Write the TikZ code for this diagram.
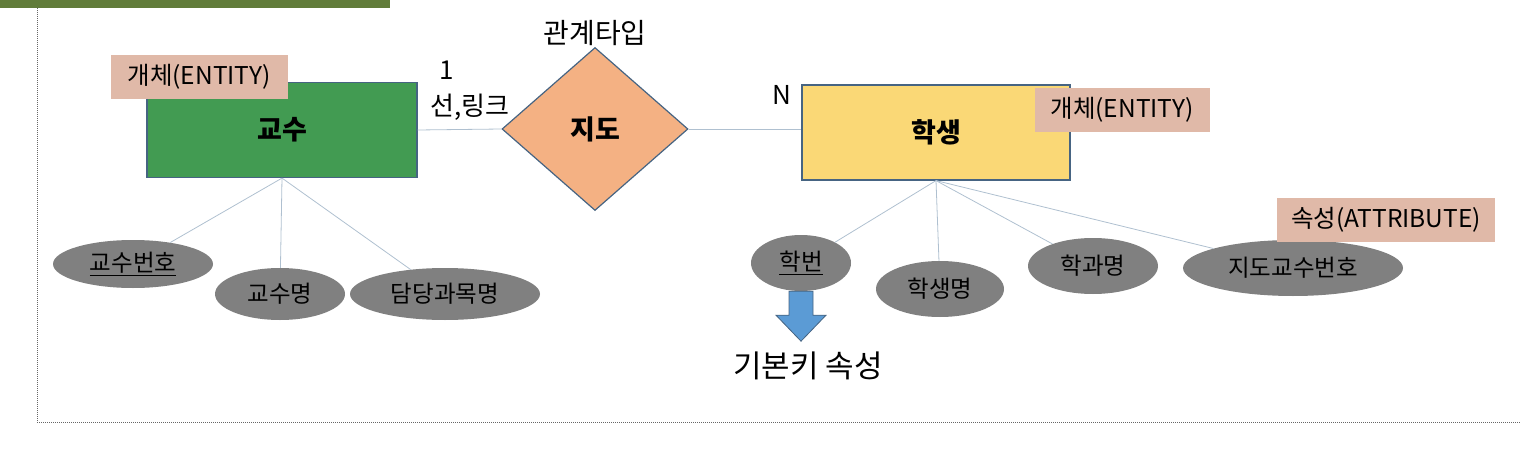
\documentclass[tikz,border=0pt]{standalone}
\usepackage{fontspec}
\setmainfont{Noto Sans CJK KR}
\usetikzlibrary{positioning, shapes.geometric}
\definecolor{bar}{RGB}{97,124,58}
\definecolor{gyosuGreen}{RGB}{66,155,82}
\definecolor{haksaengYellow}{RGB}{250,216,118}
\definecolor{jidoOrange}{RGB}{244,177,131}
\definecolor{outline}{RGB}{70,100,130}
\definecolor{tagPink}{RGB}{224,185,168}
\definecolor{attrGray}{RGB}{128,128,128}
\definecolor{linkline}{RGB}{175,192,208}
\definecolor{keyBlue}{RGB}{91,155,213}
\newcommand{\pxfont}[1]{\fontsize{#1}{#1}\selectfont}

\begin{document}
\begin{tikzpicture}[x=1pt, y=-1pt, node distance=2pt,
  entity/.style={rectangle, draw=outline, line width=1.2pt, minimum height=95pt, font=\pxfont{27}\bfseries},
  attr/.style={ellipse, fill=attrGray, minimum height=56pt, inner sep=0pt, font=\pxfont{23.5}},
  tag/.style={rectangle, fill=tagPink, minimum height=44pt, inner sep=0pt, font=\pxfont{24.5}},
  link/.style={draw=linkline, line width=0.8pt}]
        \useasboundingbox (0,0) rectangle (1521,460);

        % 상단 막대와 점선 틀
        \fill[bar] (0,0) rectangle (390,8);
        \draw[black!60, densely dotted, line width=1pt] (37,8) -- (37,422) -- (1521,422);

        % 교수 (개체)
        \node[entity, fill=gyosuGreen, minimum width=270pt] (gyosu) at (282,130) {교수};
        \node[tag, minimum width=177pt] (gyosuTag) at (199,77) {개체(ENTITY)};

        % 지도 (관계)
        \node[diamond, draw=outline, line width=1.2pt, fill=jidoOrange, minimum width=186pt,
              minimum height=163pt, inner sep=0pt, font=\pxfont{27}\bfseries] (jido) at (595,129) {지도};
        \node[above=-2pt of jido, font=\pxfont{28}] (relType) {관계타입};

        % 학생 (개체)
        \node[entity, fill=haksaengYellow, minimum width=268pt] (haksaeng) at (936,132.5) {학생};
        \node[tag, minimum width=175pt] (haksaengTag) at (1122,110) {개체(ENTITY)};

        % 관계 표시
        \node[font=\pxfont{26}] (one) at (447,70) {1};
        \node[font=\pxfont{26}] (linkLabel) at (470,107) {선,링크};
        \node[font=\pxfont{26}] (many) at (782,95) {N};

        % 속성 - 교수
        \node[attr, minimum width=160pt, minimum height=48pt] (gyosuNo) at (133,264) {\underline{교수번호}};
        \node[attr, minimum width=130pt, minimum height=52pt] (gyosuName) at (280,294) {교수명};
        \node[attr, minimum width=190pt, minimum height=52pt] (subject) at (445,294) {담당과목명};

        % 속성 - 학생
        \node[attr, minimum width=100pt] (hakbeon) at (801,263) {\underline{학번}};
        \node[attr, minimum width=128pt] (haksaengName) at (940,289) {학생명};
        \node[attr, minimum width=130pt] (hakgwa) at (1093,266) {학과명};
        \node[attr, minimum width=220pt] (advisor) at (1293,268) {지도교수번호};
        \node[tag, minimum width=218pt] (attrTag) at (1386,220) {속성(ATTRIBUTE)};

        % 연결선
        \draw[link] (gyosu.east) -- (jido.west);
        \draw[link] (jido.east) -- (haksaeng.west |- jido.east);
        \foreach \a in {gyosuNo, gyosuName, subject}
            \draw[link] (gyosu.south) -- (\a);
        \foreach \a in {hakbeon, haksaengName, hakgwa, advisor}
            \draw[link] (haksaeng.south) -- (\a);

        % 기본키 화살표
        \coordinate (keyTop) at (hakbeon.south);
        \draw[draw=outline, fill=keyBlue, line width=0.8pt] (keyTop) ++(-12,0) -- ++(0,24) -- ++(-13,0)
            -- ++(25,26) -- ++(25,-26) -- ++(-13,0) -- ++(0,-24) -- cycle;
        \node[font=\pxfont{31}] (pkLabel) at (808,366) {기본키 속성};
\end{tikzpicture}
\end{document}
